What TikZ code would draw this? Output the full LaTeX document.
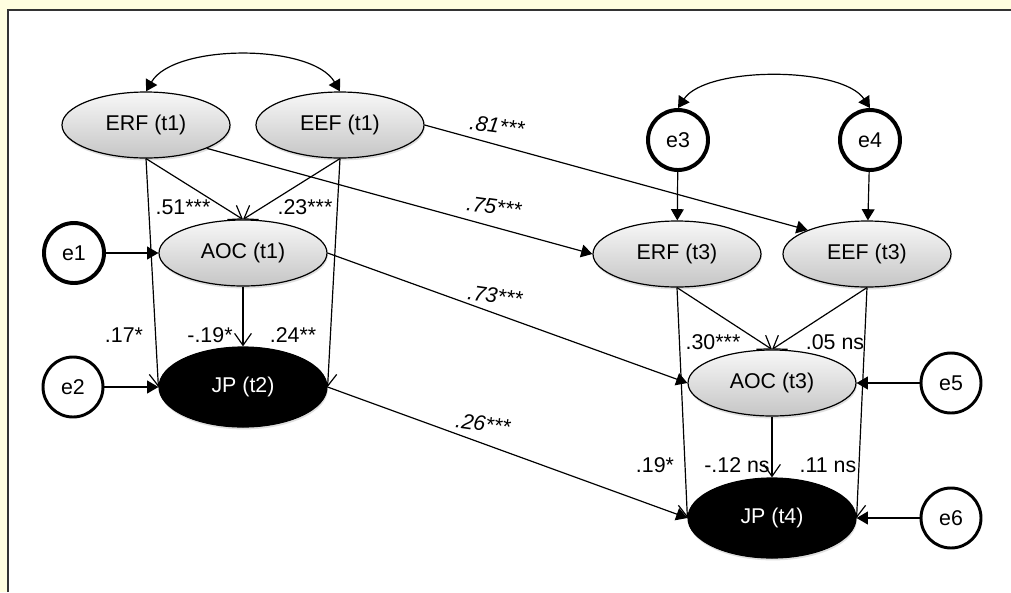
\documentclass[tikz,border=0pt]{standalone}
\usepackage{fontspec}
\setmainfont{Liberation Sans}
\usetikzlibrary{shapes.geometric, arrows.meta, shadows}
\definecolor{pagebg}{HTML}{FFFEE0}
\definecolor{framegray}{HTML}{333333}

\begin{document}
\begin{tikzpicture}[
    font=\fontsize{15.2}{18}\selectfont,
    latent/.style={ellipse, draw, line width=0.85pt, top color=gray!6, bottom color=gray!45,
        minimum width=4.2cm, minimum height=1.65cm, inner sep=0pt,
        drop shadow={shadow xshift=0.02cm, shadow yshift=-0.06cm, opacity=0.25}},
    outcome/.style={latent, fill=black, top color=black, bottom color=black, text=white, minimum height=2cm},
    errterm/.style={circle, draw, fill=white, line width=2.8pt, minimum size=1.5cm, inner sep=0pt},
    thinerr/.style={errterm, line width=2.1pt},
    fixed/.style={-{Triangle[length=0.28cm,width=0.32cm]}, line width=0.85pt},
    covar/.style={{Triangle[length=0.28cm,width=0.32cm]}-{Triangle[length=0.28cm,width=0.32cm]}, line width=0.85pt},
    effect/.style={-{Straight Barb[length=0.3cm,width=0.42cm]}, line width=0.85pt},
    coef/.style={inner sep=1pt},
    lagcoef/.style={coef, font=\fontsize{15.2}{18}\selectfont\itshape, rotate=-8},
]
    \useasboundingbox (0,0) rectangle (25.275,-14.8);
    \fill [pagebg] (0,0) rectangle (25.275,-14.8);
    \fill [white] (0.2,-0.25) rectangle (25.275,-14.8);
    \draw [framegray, line width=1.5pt] (0.2,-14.8) |- (25.275,-0.25);

    % wave 1
    \node[latent] (erf1) at (3.65,-3.125) {ERF (t1)};
    \node[latent] (eef1) at (8.5,-3.125) {EEF (t1)};
    \node[latent] (aoc1) at (6.075,-6.325) {AOC (t1)};
    \node[outcome] (jp2) at (6.075,-9.675) {JP (t2)};
    \node[errterm] (e1) at (1.85,-6.325) {e1};
    \node[thinerr] (e2) at (1.825,-9.675) {e2};

    % wave 3
    \node[errterm] (e3) at (16.95,-3.5) {e3};
    \node[errterm] (e4) at (21.75,-3.5) {e4};
    \node[latent] (erf3) at (16.925,-6.35) {ERF (t3)};
    \node[latent] (eef3) at (21.675,-6.35) {EEF (t3)};
    \node[latent] (aoc3) at (19.3,-9.575) {AOC (t3)};
    \node[outcome] (jp4) at (19.3,-12.95) {JP (t4)};
    \node[thinerr] (e5) at (23.775,-9.575) {e5};
    \node[thinerr] (e6) at (23.775,-12.95) {e6};

    % covariances
    \draw[covar] (erf1.north) .. controls +(0.7,1.2) and +(-0.7,1.2) .. (eef1.north);
    \draw[covar] (e3.north) .. controls +(0.7,1.05) and +(-0.7,1.05) .. (e4.north);

    % disturbances
    \draw[fixed] (e1) -- (aoc1);
    \draw[fixed] (e2) -- (jp2);
    \draw[fixed] (e3) -- (erf3);
    \draw[fixed] (e4) -- (eef3);
    \draw[fixed] (e5) -- (aoc3);
    \draw[fixed] (e6) -- (jp4);

    % paths within waves
    \draw[effect] (erf1.south) -- (aoc1.north);
    \draw[effect] (eef1.south) -- (aoc1.north);
    \draw[effect] (erf1.south) -- (jp2.west);
    \draw[effect] (eef1.south) -- (jp2.east);
    \draw[effect] (aoc1.south) -- (jp2.north);
    \draw[effect] (erf3.south) -- (aoc3.north);
    \draw[effect] (eef3.south) -- (aoc3.north);
    \draw[effect] (erf3.south) -- (jp4.west);
    \draw[effect] (eef3.south) -- (jp4.east);
    \draw[effect] (aoc3.south) -- (jp4.north);

    % stability paths
    \draw[fixed] (eef1.east) -- (eef3.158);
    \draw[fixed] (erf1.-21.5) -- (erf3.west);
    \draw[fixed] (aoc1.east) -- (aoc3.west);
    \draw[fixed] (jp2.east) -- (jp4.west);

    % coefficients
    \node[coef] (b51) at (4.575,-5.175) {.51***};
    \node[coef] (b23) at (7.625,-5.175) {.23***};
    \node[coef] (b17) at (3.1,-8.375) {.17*};
    \node[coef] (b19a) at (5.25,-8.375) {-.19*};
    \node[coef] (b24) at (7.325,-8.375) {.24**};
    \node[coef] (b30) at (17.825,-8.55) {.30***};
    \node[coef] (b05) at (20.875,-8.55) {.05 ns};
    \node[coef] (b19b) at (16.375,-11.625) {.19*};
    \node[coef] (b12) at (18.425,-11.625) {-.12 ns};
    \node[coef] (b11) at (20.7,-11.625) {.11 ns};
    \node[lagcoef] (b81) at (12.425,-3.15) {.81***};
    \node[lagcoef] (b75) at (12.35,-5.175) {.75***};
    \node[lagcoef] (b73) at (12.375,-7.4) {.73***};
    \node[lagcoef] (b26) at (12.075,-10.6) {.26***};
\end{tikzpicture}
\end{document}
